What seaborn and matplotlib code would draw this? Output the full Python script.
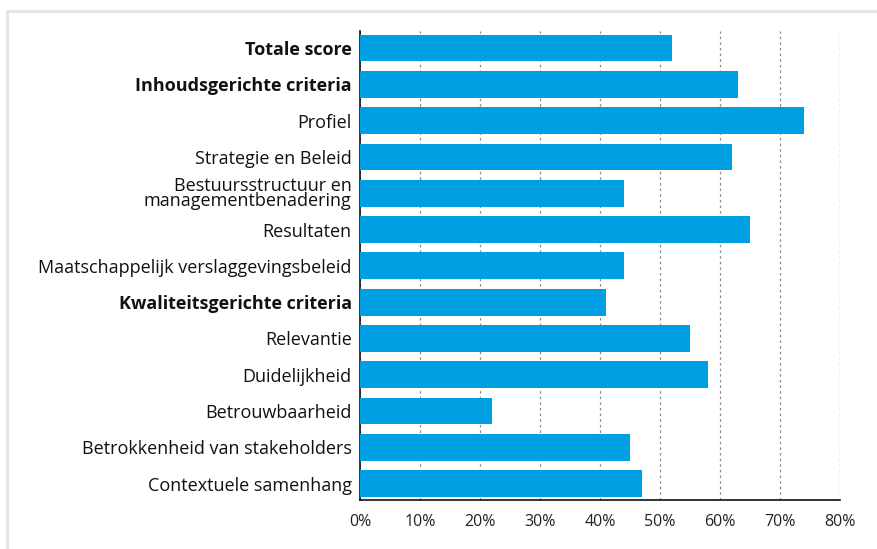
import matplotlib
matplotlib.use("Agg")
import matplotlib.pyplot as plt
import seaborn as sns
import pandas as pd
from matplotlib.patches import Rectangle

# Data
categories = [
    "Totale score",
    "Inhoudsgerichte criteria",
    "Profiel",
    "Strategie en Beleid",
    "Bestuursstructuur en\nmanagementbenadering",
    "Resultaten",
    "Maatschappelijk verslaggevingsbeleid",
    "Kwaliteitsgerichte criteria",
    "Relevantie",
    "Duidelijkheid",
    "Betrouwbaarheid",
    "Betrokkenheid van stakeholders",
    "Contextuele samenhang",
]
scores = [52, 63, 74, 62, 44, 65, 44, 41, 55, 58, 22, 45, 47]
bold_labels = ["Totale score", "Inhoudsgerichte criteria", "Kwaliteitsgerichte criteria"]
x_ticks = [0, 10, 20, 30, 40, 50, 60, 70, 80]

sns.set_theme(style="white")
plt.rcParams['font.family'] = ['Open Sans', 'DejaVu Sans']

df = pd.DataFrame({"label": categories, "score": scores})

fig = plt.figure(figsize=(8.78, 5.49), dpi=100)
ax = fig.add_axes([360 / 878, 1 - 500 / 549, 480 / 878, 469 / 549])

sns.barplot(data=df, x="score", y="label", color="#009FE3", width=0.74,
            saturation=1, linewidth=0, ax=ax, zorder=3)

ax.set_xlim(0, 80)
ax.set_ylim(12.45, -0.47)
ax.set_xticks(x_ticks)
ax.set_xticklabels([f"{t}%" for t in x_ticks], fontsize=11.5, color="#222222")
ax.set_xlabel("")
ax.set_ylabel("")
ax.tick_params(axis="both", length=0)
ax.tick_params(axis="x", pad=10)
ax.tick_params(axis="y", pad=6)

for lbl in ax.get_yticklabels():
    lbl.set_fontsize(13)
    lbl.set_color("#111111")
    lbl.set_linespacing(0.78)
    if lbl.get_text() in bold_labels:
        lbl.set_fontweight("bold")

ax.grid(axis="x", linestyle=(0, (2, 2.5)), color="#8a8a8a", linewidth=0.9)
ax.set_axisbelow(True)
for side in ["top", "right"]:
    ax.spines[side].set_visible(False)
for side in ["left", "bottom"]:
    ax.spines[side].set_color("#111111")
    ax.spines[side].set_linewidth(1.2)

# light frame around the figure
fig.patches.append(Rectangle((7 / 878, -0.1), 1.2, 1 - 11 / 549 + 0.1,
                             transform=fig.transFigure, fill=False,
                             edgecolor="#E3E3E3", linewidth=2))

fig.savefig("out.png", dpi=100)
plt.close(fig)
